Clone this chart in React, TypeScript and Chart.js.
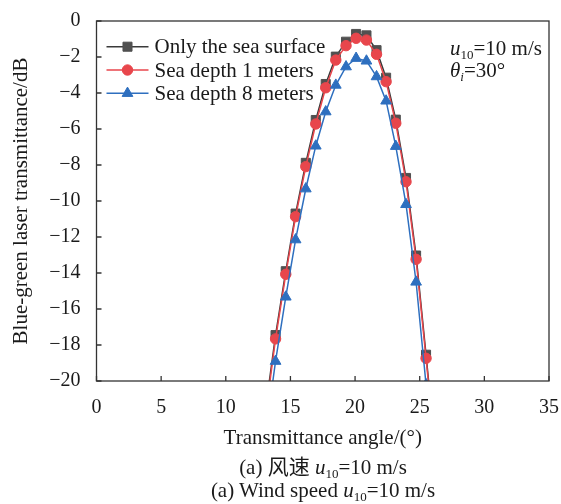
import React, { useEffect, useRef } from "react";
import { Chart, registerables } from "chart.js";

Chart.register(...registerables);

// Transmittance angle (°)
const angles = [13.07, 13.85, 14.64, 15.40, 16.19, 16.96, 17.73, 18.51, 19.30, 20.08, 20.88, 21.66, 22.40, 23.15, 23.94, 24.72, 25.49, 26.27];
// Blue-green laser transmittance (dB)
const seaSurface = [-21.6, -17.45, -13.9, -10.7, -7.88, -5.5, -3.5, -1.98, -1.15, -0.72, -0.8, -1.62, -3.15, -5.48, -8.72, -13.03, -18.54, -24.3];
const depth1m = [-21.9, -17.66, -14.07, -10.87, -8.09, -5.72, -3.71, -2.17, -1.37, -0.96, -1.06, -1.85, -3.37, -5.68, -8.93, -13.24, -18.74, -24.4];
const depth8m = [-23.0, -18.9, -15.33, -12.15, -9.32, -6.94, -5.04, -3.56, -2.54, -2.07, -2.22, -3.09, -4.44, -6.96, -10.19, -14.5, -20.2, -26.5];

const seriesNames = ["Only the sea surface", "Sea depth 1 meters", "Sea depth 8 meters"];
const xTicks = { min: 0, max: 35, step: 5 };
const yTicks = { min: -20, max: 0, step: 2 };

const FONT = '"Liberation Serif", "Times New Roman", serif';
const TEXT = "#1a1a1a";
const GRAY = "#505050";
const RED = "#e8464c";
const BLUE = "#2e6fbf";

const toPts = (ys: number[]) => ys.map((y, i) => ({ x: angles[i], y }));

const framePlugin = {
  id: "frameTicks",
  afterDraw(chart: any) {
    const { ctx, chartArea: a, scales } = chart;
    ctx.save();
    ctx.strokeStyle = "#333";
    ctx.lineWidth = 1.3;
    ctx.beginPath();
    scales.x.ticks.forEach((t: any) => {
      const px = scales.x.getPixelForValue(t.value);
      ctx.moveTo(px, a.bottom);
      ctx.lineTo(px, a.bottom - 5);
    });
    scales.y.ticks.forEach((t: any) => {
      const py = scales.y.getPixelForValue(t.value);
      ctx.moveTo(a.left, py);
      ctx.lineTo(a.left + 5, py);
    });
    ctx.stroke();
    ctx.strokeRect(a.left, a.top, a.right - a.left, a.bottom - a.top);
    ctx.restore();
  },
};

function drawMarker(ctx: CanvasRenderingContext2D, style: string, x: number, y: number, r: number) {
  ctx.beginPath();
  if (style === "rect") {
    const s = Math.SQRT1_2 * r;
    ctx.rect(x - s, y - s, 2 * s, 2 * s);
  } else if (style === "circle") {
    ctx.arc(x, y, r, 0, Math.PI * 2);
  } else {
    const ang = -Math.PI / 2;
    for (let k = 0; k < 3; k++) {
      const t = ang + (k * 2 * Math.PI) / 3;
      const px = x + Math.cos(t) * r;
      const py = y + Math.sin(t) * r;
      if (k === 0) ctx.moveTo(px, py);
      else ctx.lineTo(px, py);
    }
    ctx.closePath();
  }
  ctx.fill();
  ctx.stroke();
}

const legendPlugin = {
  id: "customLegend",
  afterDraw(chart: any) {
    const { ctx, chartArea: a } = chart;
    const rows = [
      { color: GRAY, style: "rect", r: 6.4, line: "#3a3a3a" },
      { color: RED, style: "circle", r: 5.2, line: RED },
      { color: BLUE, style: "triangle", r: 6.2, line: BLUE },
    ];
    ctx.save();
    rows.forEach((row, i) => {
      const y = a.top + 25.7 + i * 23.3;
      const x0 = a.left + 10;
      const x1 = a.left + 52;
      ctx.strokeStyle = row.line;
      ctx.lineWidth = 1.5;
      ctx.beginPath();
      ctx.moveTo(x0, y);
      ctx.lineTo(x1, y);
      ctx.stroke();
      ctx.fillStyle = row.color;
      ctx.strokeStyle = row.color;
      ctx.lineWidth = 1;
      drawMarker(ctx, row.style, (x0 + x1) / 2, y, row.r);
      ctx.fillStyle = TEXT;
      ctx.font = `21px ${FONT}`;
      ctx.textBaseline = "middle";
      ctx.textAlign = "left";
      ctx.fillText(seriesNames[i], a.left + 58, y + 1);
    });
    ctx.restore();
  },
};

const fmtY = (v: number) => (v < 0 ? "\u2212" + Math.abs(v) : String(v));

export default function App() {
  const ref = useRef<HTMLCanvasElement | null>(null);

  useEffect(() => {
    if (!ref.current) return;
    const chart = new Chart(ref.current, {
      type: "line",
      data: {
        datasets: [
          {
            label: seriesNames[0],
            data: toPts(seaSurface),
            borderColor: "#3a3a3a",
            backgroundColor: GRAY,
            pointBackgroundColor: GRAY,
            pointBorderColor: GRAY,
            pointStyle: "rect",
            pointRadius: 6.4,
            pointBorderWidth: 1,
            borderWidth: 1.5,
            tension: 0,
            order: 2,
          },
          {
            label: seriesNames[1],
            data: toPts(depth1m),
            borderColor: RED,
            backgroundColor: RED,
            pointBackgroundColor: RED,
            pointBorderColor: RED,
            pointStyle: "circle",
            pointRadius: 5.2,
            pointBorderWidth: 1,
            borderWidth: 1.5,
            tension: 0,
            order: 1,
          },
          {
            label: seriesNames[2],
            data: toPts(depth8m),
            borderColor: BLUE,
            backgroundColor: BLUE,
            pointBackgroundColor: BLUE,
            pointBorderColor: BLUE,
            pointStyle: "triangle",
            pointRadius: 6.2,
            pointBorderWidth: 1,
            borderWidth: 1.5,
            tension: 0,
            order: 0,
          },
        ],
      },
      options: {
        responsive: false,
        animation: false,
        events: [],
        layout: { padding: { left: 0, top: 21, right: 12, bottom: 49 } },
        plugins: {
          legend: { display: false },
          tooltip: { enabled: false },
        },
        scales: {
          x: {
            type: "linear",
            min: xTicks.min,
            max: xTicks.max,
            grid: { display: false, drawTicks: false },
            border: { display: false },
            ticks: {
              stepSize: xTicks.step,
              padding: 15,
              color: TEXT,
              font: { family: FONT, size: 20 },
              maxRotation: 0,
            },
            title: {
              display: true,
              text: "Transmittance angle/(°)",
              color: TEXT,
              font: { family: FONT, size: 21 },
              padding: { top: 0, bottom: 4 },
            },
            afterFit: (s: any) => {
              s.height = 74;
              s.paddingLeft = 0;
              s.paddingRight = 0;
            },
          },
          y: {
            type: "linear",
            min: yTicks.min,
            max: yTicks.max,
            grid: { display: false, drawTicks: false },
            border: { display: false },
            ticks: {
              stepSize: yTicks.step,
              padding: 16,
              color: TEXT,
              font: { family: FONT, size: 20 },
              callback: (v: any) => fmtY(Number(v)),
            },
            title: {
              display: true,
              text: "Blue-green laser transmittance/dB",
              color: TEXT,
              font: { family: FONT, size: 21 },
              padding: { top: 9, bottom: 0 },
            },
            afterFit: (s: any) => {
              s.width = 96.5;
              s.paddingTop = 0;
              s.paddingBottom = 0;
            },
          },
        },
      },
      plugins: [framePlugin, legendPlugin],
    } as any);
    return () => chart.destroy();
  }, []);

  const txt: React.CSSProperties = {
    position: "absolute",
    fontFamily: FONT,
    fontSize: 21,
    lineHeight: "24px",
    color: TEXT,
    whiteSpace: "nowrap",
  };
  const sub: React.CSSProperties = { fontSize: 13, verticalAlign: "-4px", fontStyle: "normal" };

  return (
    <div style={{ position: "absolute", left: 0, top: 0, width: 561, height: 504, background: "#fff", overflow: "hidden" }}>
      <canvas ref={ref} width={561} height={504} style={{ position: "absolute", left: 0, top: 0 }} />
      <div style={{ ...txt, left: 450, top: 36 }}>
        <i>u</i><span style={sub}>10</span>=10 m/s
      </div>
      <div style={{ ...txt, left: 450, top: 58 }}>
        <i>θ</i><i style={{ ...sub, fontStyle: "italic" }}>i</i>=30°
      </div>
      <div style={{ ...txt, left: 123, width: 400, top: 455, textAlign: "center", fontFamily: '"Liberation Serif", "Noto Sans CJK SC", serif' }}>
        (a) 风速 <i>u</i><span style={sub}>10</span>=10 m/s
      </div>
      <div style={{ ...txt, left: 123, width: 400, top: 478, textAlign: "center" }}>
        (a) Wind speed <i>u</i><span style={sub}>10</span>=10 m/s
      </div>
    </div>
  );
}
